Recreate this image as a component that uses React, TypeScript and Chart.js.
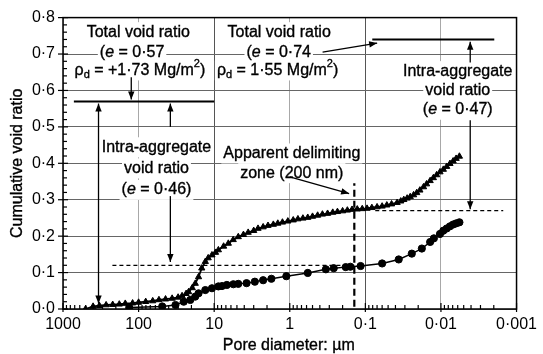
import React, { useEffect, useRef } from 'react';
import { Chart, registerables } from 'chart.js';

Chart.register(...registerables);

// ---------- axis ticks ----------
const xTickValues = [1000, 100, 10, 1, 0.1, 0.01, 0.001];
const xTickLabels = ['1000', '100', '10', '1', '0·1', '0·01', '0·001'];
const yTickValues = [0, 0.1, 0.2, 0.3, 0.4, 0.5, 0.6, 0.7, 0.8];
const yTickLabels = ['0·0', '0·1', '0·2', '0·3', '0·4', '0·5', '0·6', '0·7', '0·8'];
const xTitle = 'Pore diameter: µm';
const yTitle = 'Cumulative void ratio';

// ---------- series (triangles: upper curve) ----------
const poreDiameterA = [
  503, 400, 330, 269, 220, 180, 150, 120, 100, 80.5, 65, 53.8, 44, 36, 30, 26.6, 23.5, 21.8, 19.5,
  17.8, 16.1, 14.6, 13.1, 12, 10.7, 9.6, 8.8, 7.5, 6.5, 5.6, 4.8, 4.1, 3.55, 3.0, 2.63, 2.25, 1.94,
  1.65, 1.44, 1.25, 1.06, 0.9, 0.78, 0.67, 0.578, 0.5, 0.428, 0.37, 0.316, 0.27, 0.234, 0.2, 0.173,
  0.15, 0.128, 0.11, 0.095, 0.082, 0.07, 0.06, 0.052, 0.045, 0.038, 0.034, 0.031, 0.028, 0.0255,
  0.023, 0.0209, 0.019, 0.017, 0.0155, 0.0139, 0.0126, 0.0114, 0.0103, 0.0093, 0.0084, 0.0076,
  0.0069, 0.0063, 0.0057,
];
const voidRatioA = [
  0, 0.007, 0.009, 0.011, 0.012, 0.013, 0.015, 0.016, 0.018, 0.02, 0.022, 0.025, 0.027, 0.029, 0.032,
  0.036, 0.042, 0.047, 0.058, 0.07, 0.088, 0.112, 0.13, 0.14, 0.148, 0.155, 0.162, 0.172, 0.18, 0.19,
  0.198, 0.204, 0.21, 0.215, 0.221, 0.225, 0.229, 0.232, 0.235, 0.238, 0.241, 0.244, 0.247, 0.249,
  0.251, 0.254, 0.257, 0.26, 0.262, 0.265, 0.267, 0.269, 0.271, 0.273, 0.274, 0.275, 0.276, 0.278,
  0.28, 0.282, 0.285, 0.288, 0.292, 0.296, 0.3, 0.304, 0.308, 0.313, 0.319, 0.326, 0.335, 0.343,
  0.352, 0.36, 0.368, 0.376, 0.383, 0.391, 0.399, 0.406, 0.413, 0.419,
];

// ---------- series (circles: lower curve) ----------
const poreDiameterB = [
  133, 48.7, 32.5, 25.3, 20.7, 17.8, 16.1, 13.1, 10.7, 8.8, 7.87, 6.8, 5.58, 4.8, 3.73, 2.9, 2.25,
  1.75, 1.11, 0.578, 0.333, 0.262, 0.182, 0.158, 0.1156, 0.06, 0.0362, 0.0243, 0.0179, 0.0139,
  0.0124, 0.0103, 0.0093, 0.0084, 0.0076, 0.0069, 0.0063, 0.0057,
];
const voidRatioB = [
  0.004, 0.007, 0.011, 0.02, 0.025, 0.034, 0.043, 0.052, 0.057, 0.062, 0.063, 0.066, 0.068, 0.069,
  0.071, 0.075, 0.079, 0.083, 0.09, 0.099, 0.109, 0.112, 0.115, 0.116, 0.118, 0.125, 0.136, 0.152,
  0.166, 0.184, 0.194, 0.206, 0.215, 0.221, 0.227, 0.232, 0.235, 0.238,
];

// ---------- annotations (data coordinates: [diameter, void ratio]) ----------
type Run = [string, 'n' | 'i' | 'sub' | 'sup'];
type TextLine = { d: number; e: number; runs: Run[] };
const annotationText: TextLine[] = [
  { d: 101, e: 0.76, runs: [['Total void ratio', 'n']] },
  { d: 122, e: 0.705, runs: [['(', 'n'], ['e', 'i'], [' = 0·57', 'n']] },
  { d: 96, e: 0.655, runs: [['ρ', 'n'], ['d', 'sub'], [' = +1·73 Mg/m', 'n'], ['2', 'sup'], [')', 'n']] },
  { d: 1.38, e: 0.76, runs: [['Total void ratio', 'n']] },
  { d: 1.4, e: 0.705, runs: [['(', 'n'], ['e', 'i'], [' = 0·74', 'n']] },
  { d: 1.45, e: 0.655, runs: [['ρ', 'n'], ['d', 'sub'], [' = 1·55 Mg/m', 'n'], ['2', 'sup'], [')', 'n']] },
  { d: 58, e: 0.444, runs: [['Intra-aggregate', 'n']] },
  { d: 58, e: 0.386, runs: [['void ratio', 'n']] },
  { d: 58, e: 0.327, runs: [['(', 'n'], ['e', 'i'], [' = 0·46)', 'n']] },
  { d: 0.006, e: 0.653, runs: [['Intra-aggregate', 'n']] },
  { d: 0.006, e: 0.6, runs: [['void ratio', 'n']] },
  { d: 0.006, e: 0.547, runs: [['(', 'n'], ['e', 'i'], [' = 0·47)', 'n']] },
  { d: 0.94, e: 0.427, runs: [['Apparent delimiting', 'n']] },
  { d: 0.94, e: 0.373, runs: [['zone (200 nm)', 'n']] },
];

// solid / dashed reference lines: [d1, e1, d2, e2]
const solidLines: number[][] = [
  [718, 0.57, 10, 0.57],
  [0.081, 0.74, 0.00197, 0.74],
];
const dashedLines: number[][] = [
  [222, 0.12, 0.14, 0.12],
  [0.074, 0.27, 0.0015, 0.27],
];
const delimitingLine: number[] = [0.14, 0.006, 0.14, 0.345];

// arrows: [d1, e1, d2, e2, headAtStart(0/1)] head always at end
const arrows: number[][] = [
  [125, 0.636, 125, 0.575, 0],
  [339, 0.564, 339, 0.015, 1],
  [38, 0.5, 38, 0.564, 0],
  [38, 0.31, 38, 0.129, 0],
  [0.368, 0.705, 0.0698, 0.73, 0],
  [0.0041, 0.677, 0.0041, 0.734, 0],
  [0.0041, 0.518, 0.0041, 0.274, 0],
  [1.0, 0.3625, 0.164, 0.317, 0],
];

const FONT_FAMILY = '"Liberation Sans", Arial, Helvetica, sans-serif';
const FONT_MAIN = `16px ${FONT_FAMILY}`;

function runFont(kind: string) {
  if (kind === 'i') return `italic 16px ${FONT_FAMILY}`;
  if (kind === 'sub' || kind === 'sup') return `11px ${FONT_FAMILY}`;
  return FONT_MAIN;
}

function drawArrowHead(ctx: CanvasRenderingContext2D, x1: number, y1: number, x2: number, y2: number) {
  const ang = Math.atan2(y2 - y1, x2 - x1);
  const L = 8;
  const W = 3.2;
  ctx.beginPath();
  ctx.moveTo(x2, y2);
  ctx.lineTo(x2 - L * Math.cos(ang) + W * Math.sin(ang), y2 - L * Math.sin(ang) - W * Math.cos(ang));
  ctx.lineTo(x2 - L * Math.cos(ang) - W * Math.sin(ang), y2 - L * Math.sin(ang) + W * Math.cos(ang));
  ctx.closePath();
  ctx.fill();
}

function lineWidthOf(ctx: CanvasRenderingContext2D, runs: Run[]) {
  let w = 0;
  for (const [t, k] of runs) {
    ctx.font = runFont(k);
    w += ctx.measureText(t).width;
  }
  return w;
}

const overlayPlugin = {
  id: 'overlay',
  beforeDraw(chart: any) {
    const ctx = chart.ctx as CanvasRenderingContext2D;
    ctx.save();
    ctx.fillStyle = '#fff';
    ctx.fillRect(0, 0, chart.width, chart.height);
    ctx.restore();
  },
  beforeDatasetsDraw(chart: any) {
    const ctx = chart.ctx as CanvasRenderingContext2D;
    const xs = chart.scales.x;
    const ys = chart.scales.y;
    ctx.save();
    ctx.fillStyle = '#fff';
    for (const ln of annotationText) {
      const w = lineWidthOf(ctx, ln.runs);
      const cx = xs.getPixelForValue(ln.d);
      const cy = ys.getPixelForValue(ln.e);
      ctx.fillRect(cx - w / 2 - 2, cy - 10, w + 4, 20);
    }
    ctx.restore();
  },
  afterDatasetsDraw(chart: any) {
    const ctx = chart.ctx as CanvasRenderingContext2D;
    const xs = chart.scales.x;
    const ys = chart.scales.y;
    const px = (d: number) => xs.getPixelForValue(d);
    const py = (e: number) => ys.getPixelForValue(e);
    ctx.save();
    ctx.strokeStyle = '#000';
    ctx.fillStyle = '#000';

    // solid lines
    ctx.lineWidth = 2;
    for (const [d1, e1, d2, e2] of solidLines) {
      ctx.beginPath();
      ctx.moveTo(px(d1), py(e1));
      ctx.lineTo(px(d2), py(e2));
      ctx.stroke();
    }
    // dashed lines
    ctx.lineWidth = 1.2;
    ctx.setLineDash([4, 3]);
    for (const [d1, e1, d2, e2] of dashedLines) {
      ctx.beginPath();
      ctx.moveTo(px(d1), py(e1));
      ctx.lineTo(px(d2), py(e2));
      ctx.stroke();
    }
    ctx.lineWidth = 2.2;
    ctx.setLineDash([7, 4]);
    ctx.beginPath();
    ctx.moveTo(px(delimitingLine[0]), py(delimitingLine[1]));
    ctx.lineTo(px(delimitingLine[2]), py(delimitingLine[3]));
    ctx.stroke();
    ctx.setLineDash([]);

    // arrows
    ctx.lineWidth = 1.3;
    for (const [d1, e1, d2, e2, hs] of arrows) {
      const x1 = px(d1), y1 = py(e1), x2 = px(d2), y2 = py(e2);
      ctx.beginPath();
      ctx.moveTo(x1, y1);
      ctx.lineTo(x2, y2);
      ctx.stroke();
      drawArrowHead(ctx, x1, y1, x2, y2);
      if (hs) drawArrowHead(ctx, x2, y2, x1, y1);
    }

    // text
    ctx.textBaseline = 'middle';
    ctx.textAlign = 'left';
    ctx.lineWidth = 0.35;
    for (const ln of annotationText) {
      const w = lineWidthOf(ctx, ln.runs);
      let x = px(ln.d) - w / 2;
      const cy = py(ln.e);
      for (const [t, k] of ln.runs) {
        ctx.font = runFont(k);
        let y = cy;
        if (k === 'sub') y = cy + 5;
        if (k === 'sup') y = cy - 6;
        ctx.fillText(t, x, y);
        ctx.strokeText(t, x, y);
        x += ctx.measureText(t).width;
      }
    }
    ctx.restore();
  },
  afterDraw(chart: any) {
    const ctx = chart.ctx as CanvasRenderingContext2D;
    const xs = chart.scales.x;
    const ys = chart.scales.y;
    const a = chart.chartArea;
    ctx.save();
    ctx.strokeStyle = '#000';
    ctx.lineWidth = 1.5;
    ctx.strokeRect(a.left, a.top, a.right - a.left, a.bottom - a.top);

    ctx.lineWidth = 1.2;
    // x ticks
    for (const v of xTickValues) {
      const x = xs.getPixelForValue(v);
      ctx.beginPath();
      ctx.moveTo(x, a.bottom - 6);
      ctx.lineTo(x, a.bottom + 3);
      ctx.stroke();
    }
    for (let k = -3; k < 3; k++) {
      for (let m = 2; m <= 9; m++) {
        const x = xs.getPixelForValue(m * Math.pow(10, k));
        ctx.beginPath();
        ctx.moveTo(x, a.bottom);
        ctx.lineTo(x, a.bottom - 4);
        ctx.stroke();
      }
    }
    // y ticks
    for (const v of yTickValues) {
      const y = ys.getPixelForValue(v);
      ctx.beginPath();
      ctx.moveTo(a.left - 5, y);
      ctx.lineTo(a.left + 5, y);
      ctx.stroke();
    }
    for (let i = 1; i < 40; i++) {
      if (i % 5 === 0) continue;
      const y = ys.getPixelForValue(i * 0.02);
      ctx.beginPath();
      ctx.moveTo(a.left, y);
      ctx.lineTo(a.left + 4, y);
      ctx.stroke();
    }

    // axis titles
    ctx.fillStyle = '#000';
    ctx.font = FONT_MAIN;
    ctx.lineWidth = 0.35;
    ctx.textAlign = 'center';
    ctx.textBaseline = 'middle';
    ctx.fillText(xTitle, (a.left + a.right) / 2 - 1, 346);
    ctx.strokeText(xTitle, (a.left + a.right) / 2 - 1, 346);
    ctx.translate(17.5, (a.top + a.bottom) / 2);
    ctx.rotate(-Math.PI / 2);
    ctx.fillText(yTitle, 0, 0);
    ctx.strokeText(yTitle, 0, 0);
    ctx.restore();
  },
};

function closestIndex(values: number[], v: number, log: boolean) {
  let best = 0;
  let bd = Infinity;
  values.forEach((t, i) => {
    const diff = log ? Math.abs(Math.log10(t) - Math.log10(v)) : Math.abs(t - v);
    if (diff < bd) {
      bd = diff;
      best = i;
    }
  });
  return best;
}

export default function App() {
  const ref = useRef<HTMLCanvasElement | null>(null);

  useEffect(() => {
    document.body.style.margin = '0';
    const canvas = ref.current;
    if (!canvas) return;
    const tickFont = { family: '"Liberation Sans", Arial, Helvetica, sans-serif', size: 16 };
    const chart = new Chart(canvas, {
      type: 'scatter',
      data: {
        datasets: [
          {
            label: 'A',
            data: poreDiameterA.map((d, i) => ({ x: d, y: voidRatioA[i] })),
            showLine: true,
            borderColor: '#000',
            borderWidth: 1.8,
            pointStyle: 'triangle',
            pointRadius: 3.6,
            pointBackgroundColor: '#000',
            pointBorderColor: '#000',
            pointBorderWidth: 1,
          },
          {
            label: 'B',
            data: poreDiameterB.map((d, i) => ({ x: d, y: voidRatioB[i] })),
            showLine: true,
            borderColor: '#000',
            borderWidth: 1.4,
            pointStyle: 'circle',
            pointRadius: 3.6,
            pointBackgroundColor: '#000',
            pointBorderColor: '#000',
            pointBorderWidth: 1,
          },
        ],
      },
      options: {
        responsive: false,
        animation: false,
        devicePixelRatio: 1,
        layout: { padding: { left: 0, top: 17, right: 22, bottom: 0 } },
        plugins: { legend: { display: false }, tooltip: { enabled: false } },
        scales: {
          x: {
            type: 'logarithmic',
            min: 0.001,
            max: 1000,
            reverse: true,
            afterBuildTicks: (s: any) => {
              s.ticks = xTickValues.map((v) => ({ value: v }));
            },
            afterFit: (s: any) => {
              s.height = 45;
            },
            ticks: {
              autoSkip: false,
              maxRotation: 0,
              padding: 6,
              color: '#000',
              font: tickFont,
              callback: (v: any) => xTickLabels[closestIndex(xTickValues, Number(v), true)],
            },
            grid: {
              drawTicks: false,
              lineWidth: 1,
              color: (c: any) =>
                c.tick && (c.tick.value === 10 || c.tick.value === 0.1) ? '#555' : '#a8a8a8',
            },
            border: { display: false },
          },
          y: {
            type: 'linear',
            min: 0,
            max: 0.8,
            afterBuildTicks: (s: any) => {
              s.ticks = yTickValues.map((v) => ({ value: v }));
            },
            afterFit: (s: any) => {
              s.width = 63;
            },
            ticks: {
              padding: 8,
              color: '#000',
              font: tickFont,
              callback: (v: any) => yTickLabels[closestIndex(yTickValues, Number(v), false)],
            },
            grid: { drawTicks: false, lineWidth: 1, color: '#666' },
            border: { display: false },
          },
        },
      },
      plugins: [overlayPlugin],
    } as any);
    return () => chart.destroy();
  }, []);

  return (
    <div style={{ position: 'fixed', left: 0, top: 0, width: 543, height: 354 }}>
      <canvas ref={ref} width={543} height={354} style={{ display: 'block', width: 543, height: 354 }} />
    </div>
  );
}
